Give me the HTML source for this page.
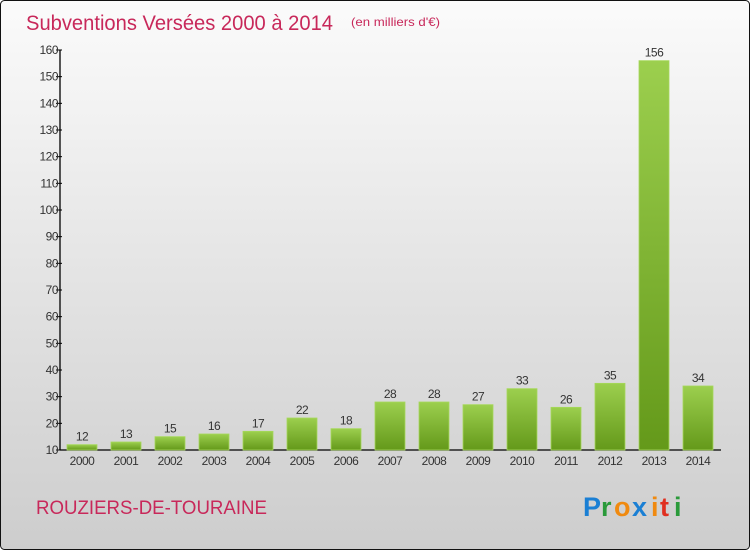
<!DOCTYPE html>
<html><head><meta charset="utf-8"><style>
html,body{margin:0;padding:0}
body{width:750px;height:550px;overflow:hidden;font-family:"Liberation Sans",sans-serif}
svg{display:block}
</style></head><body>
<svg id="chart" width="750" height="550" xmlns="http://www.w3.org/2000/svg">
<defs>
<linearGradient id="bg" x1="0" y1="0" x2="0" y2="1"><stop offset="0" stop-color="#fbfbfb"/><stop offset="1" stop-color="#cdcdcd"/></linearGradient>
<linearGradient id="bar" x1="0" y1="0" x2="0" y2="1"><stop offset="0" stop-color="#9ccf4e"/><stop offset="1" stop-color="#64991a"/></linearGradient>
</defs>
<rect x="0.5" y="0.5" width="749" height="549" rx="4" fill="url(#bg)" stroke="#111"/>
<text x="26" y="30" font-size="21" fill="#c8285a" textLength="307" lengthAdjust="spacingAndGlyphs">Subventions Versées 2000 à 2014</text>
<text x="351" y="26" font-size="12" fill="#c8285a" textLength="89" lengthAdjust="spacingAndGlyphs">(en milliers d'€)</text>
<g id="axes"></g>
<g id="bars"></g>
<text x="36" y="514" font-size="19" fill="#c8285a" textLength="231" lengthAdjust="spacingAndGlyphs">ROUZIERS-DE-TOURAINE</text>
<g font-size="27" font-weight="bold">
<text x="583" y="516" fill="#1a7fd4">P</text><text x="601" y="516" fill="#2a9a3a">r</text><text x="614" y="516" fill="#f08a10">o</text><text x="632" y="516" fill="#1a7fd4">x</text><text x="651" y="516" fill="#f08a10">i</text><text x="660" y="516" fill="#e03020">t</text><text x="674" y="516" fill="#2a9a3a">i</text>
</g>
</svg>
<script>
const years=["2000","2001","2002","2003","2004","2005","2006","2007","2008","2009","2010","2011","2012","2013","2014"];
const values=[12,13,15,16,17,22,18,28,28,27,33,26,35,156,34];
const yTicks=[10,20,30,40,50,60,70,80,90,100,110,120,130,140,150,160];
const NS="http://www.w3.org/2000/svg";
const y=v=>450-(v-10)*400/150;
const x=i=>82+i*44;
function mk(t,a,p){const e=document.createElementNS(NS,t);for(const k in a)e.setAttribute(k,a[k]);p.appendChild(e);return e;}
const ax=document.getElementById('axes'),bs=document.getElementById('bars');
const yl=mk('line',{x1:60,y1:50,x2:60,y2:450,stroke:'#000','stroke-width':1.3},ax);


const xl=mk('line',{x1:60,y1:450,x2:721,y2:450,stroke:'#000','stroke-width':1.3},ax);


yTicks.forEach(v=>{
 mk('line',{x1:56,y1:y(v),x2:62,y2:y(v),stroke:'#000'},ax);
 const t=mk('text',{x:58,y:y(v)+4,'font-size':12,'text-anchor':'end',fill:'#333','letter-spacing':'-0.5'},ax);t.textContent=v;
 
 
});
years.forEach((yr,i)=>{
 const r=mk('rect',{x:x(i)-15,y:y(values[i]),width:30,height:450-y(values[i]),fill:'url(#bar)',stroke:'#a6d85a','stroke-width':0.8},bs);
 
 
 const l=mk('text',{x:x(i),y:y(values[i])-4,'font-size':12,'text-anchor':'middle',fill:'#333','letter-spacing':'-0.5'},bs);l.textContent=values[i];
 
 
 const xt=mk('text',{x:x(i),y:465,'font-size':12,'text-anchor':'middle',fill:'#333','letter-spacing':'-0.5'},bs);xt.textContent=yr;
 
 
});
</script>
</body></html>
